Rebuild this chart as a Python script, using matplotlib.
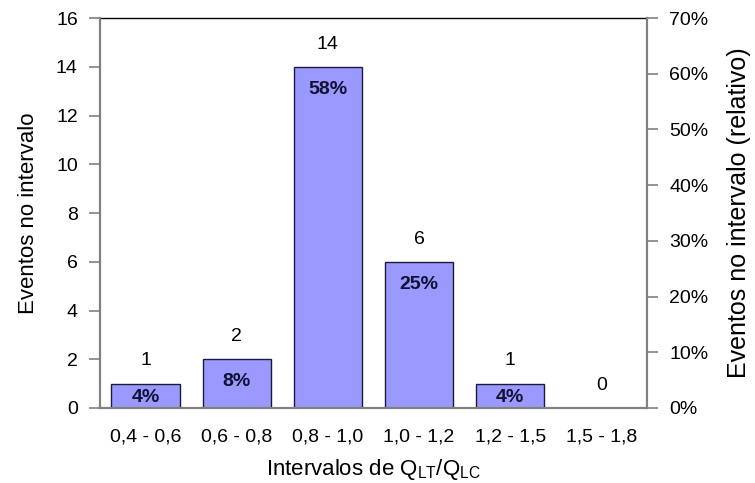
import matplotlib
matplotlib.use('Agg')
import matplotlib.pyplot as plt
import numpy as np

plt.rcParams['font.family'] = ['Liberation Sans', 'DejaVu Sans']
plt.rcParams['mathtext.fontset'] = 'custom'
plt.rcParams['mathtext.rm'] = 'Liberation Sans'

# data
intervalos = ['0,4 - 0,6', '0,6 - 0,8', '0,8 - 1,0', '1,0 - 1,2', '1,2 - 1,5', '1,5 - 1,8']
eventos = [1, 2, 14, 6, 1, 0]
percent = ['4%', '8%', '58%', '25%', '4%', '']

grey = '#808080'

fig = plt.figure(figsize=(7.55, 4.83), dpi=100)
ax = fig.add_axes([100/755, 1 - 408/483, 547/755, 390/483])
x = np.arange(len(intervalos))
ax.bar(x, eventos, width=0.75, color='#9999ff', edgecolor='#1a1a3a', linewidth=1, zorder=2)

for xi, v, pc in zip(x, eventos, percent):
    ax.text(xi, v + 0.93, str(v), ha='center', va='center', fontsize=14)
    if pc:
        ax.text(xi, max(v - 0.93, v * 0.45), pc, ha='center', va='center',
                fontsize=14, fontweight='bold', color='#111133')

ax.set_xlim(-0.5, len(intervalos) - 0.5)
ax.set_ylim(0, 16)
ax.set_yticks(range(0, 17, 2))
ax.set_xticks(x)
ax.set_xticklabels(intervalos)
ax.tick_params(axis='x', length=0, labelsize=14, pad=15)
ax.tick_params(axis='y', length=8, color=grey, labelsize=14, pad=8, width=1.2)
ax.set_xlabel('Intervalos de Q$_{\\mathrm{LT}}$/Q$_{\\mathrm{LC}}$', fontsize=16, labelpad=8)
ax.set_ylabel('Eventos no intervalo', fontsize=16, labelpad=12)

for s in ['left', 'right', 'bottom']:
    ax.spines[s].set_color(grey)
    ax.spines[s].set_linewidth(1.5)
ax.spines['top'].set_color('black')
ax.spines['top'].set_linewidth(1)

ax2 = ax.twinx()
ax2.set_ylim(0, 0.70)
pct_ticks = np.arange(0, 0.71, 0.10)
ax2.set_yticks(pct_ticks)
ax2.set_yticklabels([f'{int(round(t * 100))}%' for t in pct_ticks])
ax2.tick_params(axis='y', length=8, color=grey, labelsize=14, pad=8, width=1.2)
ax2.set_ylabel('Eventos no intervalo (relativo)', fontsize=18, labelpad=13)
for s in ['left', 'right', 'bottom']:
    ax2.spines[s].set_color(grey)
    ax2.spines[s].set_linewidth(1.5)
ax2.spines['top'].set_visible(False)

fig.savefig('out.png', dpi=100)
